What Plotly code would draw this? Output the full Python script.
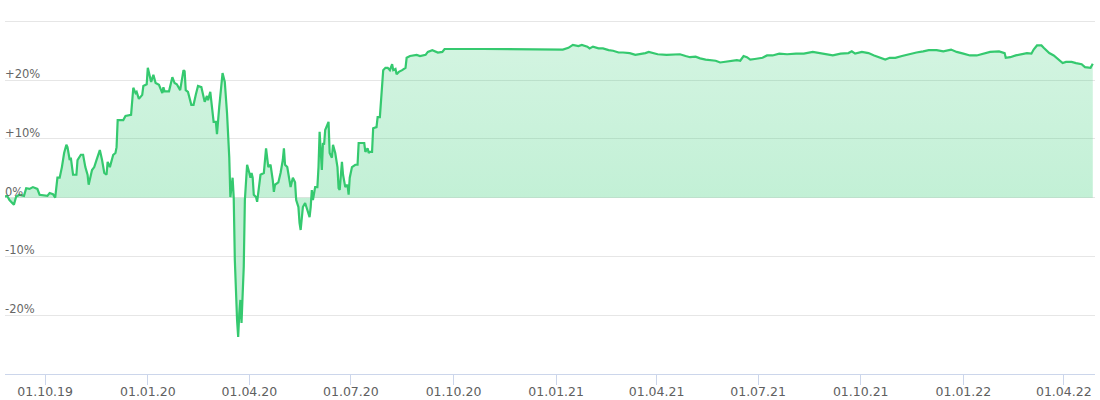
import pandas as pd
import plotly.graph_objects as go

# ---- data ----
START_DATE = "2019-08-26"

DAY_OFFSETS = [
    0, 2, 4, 8, 10, 13, 17, 19, 22, 25, 29, 31, 38, 40, 43, 45, 47, 49, 51, 53,
    55, 56, 58, 59, 61, 64, 65, 68, 70, 72, 74, 75, 78, 80, 82, 85, 87, 89, 91, 92,
    94, 97, 99, 100, 101, 106, 108, 113, 115, 117, 118, 120, 123, 124, 127, 128, 131, 133, 135, 138,
    141, 142, 143, 147, 150, 152, 154, 157, 160, 161, 162, 164, 167, 169, 171, 173, 176, 178, 179, 181,
    182, 184, 186, 187, 189, 190, 192, 194, 195, 197, 199, 201, 202, 203, 204, 205, 206, 208, 209, 210,
    211, 212, 214, 215, 217, 219, 220, 221, 222, 223, 225, 226, 228, 229, 232, 234, 236, 238, 240, 241,
    242, 245, 247, 249, 250, 251, 253, 254, 256, 258, 260, 261, 263, 264, 265, 267, 269, 271, 273, 274,
    275, 276, 278, 280, 281, 282, 283, 284, 285, 286, 287, 289, 290, 291, 293, 294, 296, 298, 299, 300,
    302, 303, 305, 307, 308, 309, 311, 314, 316, 317, 320, 322, 323, 325, 326, 327, 329, 330, 333, 334,
    336, 337, 339, 341, 343, 345, 347, 348, 350, 351, 353, 356, 359, 360, 363, 369, 372, 377, 379, 383,
    385, 388, 392, 394, 429, 473, 500, 505, 509, 514, 517, 522, 524, 527, 532, 536, 541, 545, 550, 554,
    560, 565, 569, 574, 577, 581, 585, 593, 599, 605, 610, 614, 619, 623, 628, 632, 637, 641, 645, 652,
    656, 659, 662, 665, 668, 672, 679, 683, 688, 694, 701, 709, 716, 724, 730, 736, 742, 749, 756, 759,
    762, 768, 774, 779, 784, 789, 793, 798, 804, 810, 817, 823, 828, 835, 841, 848, 853, 859, 865, 871,
    877, 883, 891, 896, 897, 901, 906, 912, 916, 920, 922, 925, 929, 931, 933, 936, 940, 944, 948, 951,
    956, 960, 965, 968, 973, 975,
]

RETURN_PCT = [
    0.2, 0.3, -0.4, -1.2, 0.2, 0.5, 0.3, 1.6, 1.5, 1.8, 1.5, 0.5, 0.3, 0.8, 0.6, 0.0, 3.4, 3.4, 5.2, 7.6,
    9.0, 8.6, 6.4, 6.8, 3.9, 3.9, 6.4, 7.3, 7.3, 5.2, 3.9, 2.2, 4.7, 5.2, 6.4, 8.1, 6.4, 4.2, 3.9, 6.1,
    5.2, 7.3, 7.6, 8.6, 13.2, 13.2, 13.9, 14.1, 18.7, 17.8, 18.0, 16.8, 17.5, 19.0, 19.3, 22.1, 19.7, 20.9, 19.5, 19.2,
    17.8, 18.8, 18.1, 18.1, 20.5, 19.5, 19.3, 18.3, 21.7, 21.5, 18.3, 18.0, 15.8, 15.8, 17.5, 19.0, 18.8, 17.1, 16.3, 17.3,
    16.6, 18.0, 14.9, 12.9, 12.9, 10.8, 15.4, 20.0, 21.2, 19.7, 14.4, 6.9, 0.1, 1.8, 3.4, 0.1, -10.6, -20.8, -23.7, -19.7,
    -17.4, -21.3, -11.8, -0.4, 5.6, 4.2, 3.4, 4.2, 3.4, 0.5, 0.1, -0.7, 3.0, 3.9, 4.2, 8.4, 5.2, 5.6, 3.0, 1.0,
    2.2, 2.6, 4.2, 6.4, 8.4, 5.6, 5.2, 3.9, 1.8, 3.4, 2.6, -0.4, -1.6, -4.3, -5.5, -1.6, -0.9, -2.1, -3.3, -1.6,
    1.3, -0.4, 1.8, 1.8, 5.2, 11.2, 8.1, 4.7, 9.3, 9.0, 11.5, 12.4, 12.9, 7.6, 6.8, 9.0, 7.6, 5.2, 1.6, 1.3,
    6.1, 3.9, 1.8, 2.2, 0.5, 3.4, 5.2, 5.6, 5.6, 9.3, 9.3, 9.3, 7.8, 8.4, 7.6, 7.8, 7.8, 11.8, 12.0, 13.7,
    13.7, 16.6, 21.7, 22.1, 22.1, 21.7, 22.7, 21.7, 21.9, 21.0, 21.4, 21.7, 22.1, 23.8, 24.1, 24.3, 24.1, 24.3, 24.8, 25.1,
    24.9, 24.7, 24.8, 25.3, 25.3, 25.2, 25.2, 25.5, 26.0, 25.8, 26.0, 25.7, 25.4, 25.7, 25.4, 25.4, 25.1, 25.0, 24.7, 24.7,
    24.6, 24.3, 24.4, 24.6, 24.8, 24.6, 24.4, 24.3, 24.3, 24.4, 24.1, 23.9, 24.0, 23.7, 23.5, 23.4, 23.3, 23.0, 23.1, 23.2,
    23.4, 23.3, 24.1, 23.9, 23.5, 23.6, 23.8, 24.2, 24.2, 24.5, 24.4, 24.5, 24.5, 24.8, 24.6, 24.4, 24.2, 24.5, 24.6, 24.9,
    24.5, 24.8, 24.6, 24.2, 23.8, 23.5, 23.8, 23.8, 24.1, 24.4, 24.7, 24.9, 25.1, 25.1, 24.9, 25.2, 24.8, 24.5, 24.2, 24.2,
    24.5, 24.8, 24.9, 24.6, 23.8, 23.9, 24.2, 24.4, 24.6, 24.5, 25.2, 25.9, 25.9, 25.5, 25.1, 24.6, 24.2, 23.6, 22.9, 23.1,
    23.1, 22.9, 22.7, 22.2, 22.1, 22.8,
]

Y_TICK_VALUES = [-30, -20, -10, 0, 10, 20, 30]
Y_TICK_LABELS = ["", "-20%", "-10%", "0%", "+10%", "+20%", ""]

X_TICK_DATES = ["2019-10-01", "2020-01-01", "2020-04-01", "2020-07-01", "2020-10-01",
                "2021-01-01", "2021-04-01", "2021-07-01", "2021-10-01", "2022-01-01",
                "2022-04-01"]
X_RANGE = ["2019-08-26", "2022-04-29"]
Y_RANGE = [-30, 30.4]

# ---- build ----
dates = pd.to_datetime(START_DATE) + pd.to_timedelta(DAY_OFFSETS, unit="D")

LINE_COLOR = "#35c96f"

fig = go.Figure()
fig.add_trace(go.Scatter(
    x=dates,
    y=RETURN_PCT,
    mode="lines",
    line=dict(color=LINE_COLOR, width=2.2),
    fill="tozeroy",
    fillgradient=dict(
        type="vertical",
        start=0,
        stop=30,
        colorscale=[[0, "rgba(46,204,113,0.29)"], [1, "rgba(46,204,113,0.20)"]],
    ),
    hoverinfo="skip",
    showlegend=False,
))

font_family = "DejaVu Sans, Verdana, sans-serif"

fig.update_layout(
    width=1100,
    height=400,
    margin=dict(l=5, r=5, t=19, b=26, autoexpand=False),
    paper_bgcolor="white",
    plot_bgcolor="white",
    font=dict(family=font_family, size=11, color="#666666"),
    xaxis=dict(
        type="date",
        range=X_RANGE,
        tickvals=pd.to_datetime(X_TICK_DATES),
        tickformat="%d.%m.%y",
        showgrid=False,
        showline=True,
        linecolor="#ccd6eb",
        linewidth=1,
        ticks="outside",
        ticklen=10,
        tickcolor="#ccd6eb",
        tickwidth=1,
        zeroline=False,
        automargin=False,
        ticklabelstandoff=-4,
        tickfont=dict(family=font_family, size=12.5, color="#606060"),
    ),
    yaxis=dict(
        range=Y_RANGE,
        tickvals=Y_TICK_VALUES,
        ticktext=Y_TICK_LABELS,
        showgrid=True,
        gridcolor="#e6e6e6",
        gridwidth=1,
        zeroline=False,
        showline=False,
        ticks="",
        automargin=False,
        ticklabelposition="inside",
        ticklabelshift=-6,
        ticklabelstandoff=-3,
        tickfont=dict(family=font_family, size=11.5, color="#666666"),
    ),
)

fig.write_html(
    "out.html",
    config={"displayModeBar": False},
    post_script="document.body.style.margin='0';document.body.style.padding='0';",
)
